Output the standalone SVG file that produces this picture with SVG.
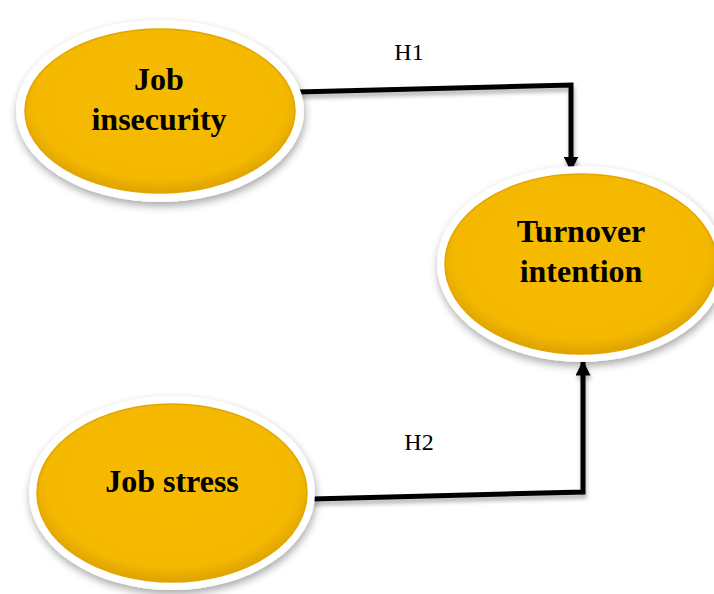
<svg xmlns="http://www.w3.org/2000/svg" width="714" height="594" viewBox="0 0 714 594">
  <defs>
    <radialGradient id="gold" cx="50%" cy="45%" r="55%">
      <stop offset="0%" stop-color="#F6BB00"/>
      <stop offset="85%" stop-color="#F4B800"/>
      <stop offset="100%" stop-color="#DDA200"/>
    </radialGradient>
    <filter id="shadow" x="-20%" y="-20%" width="140%" height="150%">
      <feGaussianBlur in="SourceAlpha" stdDeviation="4"/>
      <feOffset dx="1" dy="4" result="b"/>
      <feComponentTransfer><feFuncA type="linear" slope="0.35"/></feComponentTransfer>
      <feMerge><feMergeNode/><feMergeNode in="SourceGraphic"/></feMerge>
    </filter>
    <filter id="lineShadow" x="-10%" y="-50%" width="120%" height="200%">
      <feGaussianBlur in="SourceAlpha" stdDeviation="2"/>
      <feOffset dx="1" dy="4" result="b"/>
      <feComponentTransfer><feFuncA type="linear" slope="0.3"/></feComponentTransfer>
      <feMerge><feMergeNode/><feMergeNode in="SourceGraphic"/></feMerge>
    </filter>
    <marker id="arrow" viewBox="0 0 10 10" refX="9" refY="5" markerUnits="userSpaceOnUse" markerWidth="15" markerHeight="15" orient="auto">
      <path d="M0,0 L10,5 L0,10 Z" fill="#000"/>
    </marker>
  </defs>
  <style>
    .rim { fill: #FFFFFF; }
    .body { fill: url(#gold); stroke: #E2A600; stroke-width: 1.5; }
    .label { font-family: "Liberation Serif", "Times New Roman", serif; font-weight: bold; font-size: 32px; fill: #000; text-anchor: middle; }
    .hyp { font-family: "Liberation Serif", "Times New Roman", serif; font-size: 24px; fill: #000; text-anchor: middle; }
    .conn { fill: none; stroke: #000; stroke-width: 5; stroke-linejoin: miter; }
  </style>

  <rect width="714" height="594" fill="#FFFFFF"/>

  <g id="connectors">
    <path class="conn" filter="url(#lineShadow)" d="M297,92 L571,85 L571,170" marker-end="url(#arrow)"/>
    <path class="conn" filter="url(#lineShadow)" d="M312,499 L583,492 L583,362" marker-end="url(#arrow)"/>
    <text class="hyp" x="409" y="60">H1</text>
    <text class="hyp" x="419" y="450">H2</text>
  </g>

  <g id="job-insecurity">
    <ellipse class="rim" filter="url(#shadow)" cx="160" cy="111" rx="144" ry="91"/>
    <ellipse class="body" cx="160" cy="111" rx="135" ry="82"/>
    <text class="label" x="159" y="90">Job</text>
    <text class="label" x="159" y="130">insecurity</text>
  </g>

  <g id="turnover-intention">
    <ellipse class="rim" filter="url(#shadow)" cx="581" cy="264" rx="144" ry="98"/>
    <ellipse class="body" cx="581" cy="264" rx="136" ry="90"/>
    <text class="label" x="581" y="242">Turnover</text>
    <text class="label" x="581" y="282">intention</text>
  </g>

  <g id="job-stress">
    <ellipse class="rim" filter="url(#shadow)" cx="172" cy="493" rx="143" ry="97"/>
    <ellipse class="body" cx="172" cy="493" rx="135" ry="89"/>
    <text class="label" x="172" y="492">Job stress</text>
  </g>
</svg>
